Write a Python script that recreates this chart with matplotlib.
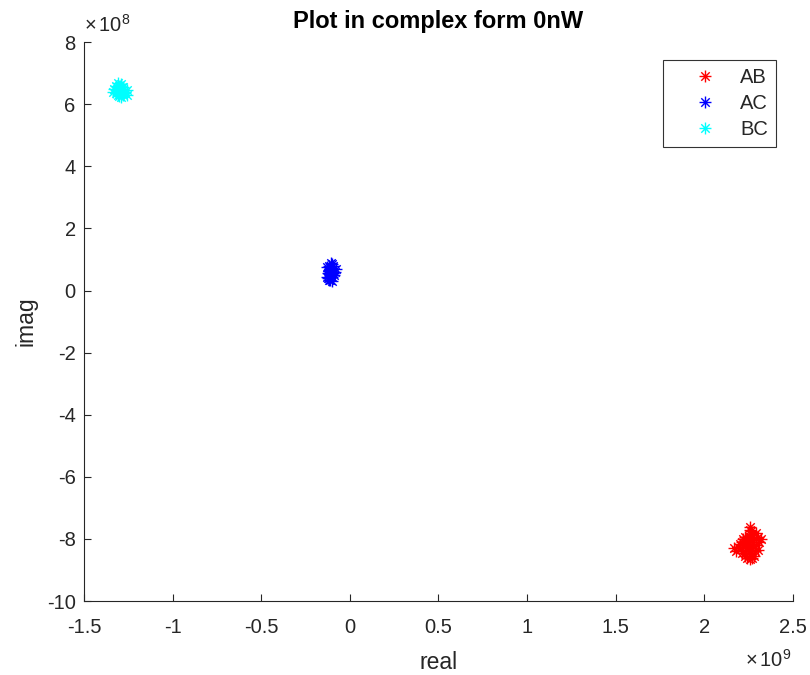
import numpy as np
import matplotlib
matplotlib.use("Agg")
import matplotlib.pyplot as plt
from matplotlib.path import Path
from matplotlib.lines import Line2D

plt.rcParams['font.family'] = ['Liberation Sans', 'DejaVu Sans']
plt.rcParams['mathtext.fontset'] = 'custom'
plt.rcParams['mathtext.rm'] = 'Liberation Sans'
plt.rcParams['mathtext.it'] = 'Liberation Sans'

# Complex samples per pair (real part in units of 1e9, imaginary part in units of 1e8)
ab_real = [2.25, 2.27, 2.26, 2.28, 2.24, 2.21, 2.19, 2.23, 2.26, 2.29, 2.30, 2.22, 2.25, 2.27,
           2.20, 2.24, 2.28, 2.23, 2.31, 2.26, 2.21, 2.17, 2.29, 2.25, 2.27, 2.22, 2.30, 2.24, 2.265,
           2.245, 2.255, 2.235, 2.275, 2.215, 2.285, 2.255, 2.23, 2.32, 2.18, 2.26]
ab_imag = [-8.10, -7.85, -7.62, -8.00, -8.20, -8.30, -8.25, -8.45, -8.50, -8.20, -7.95, -8.00, -7.90, -8.35,
           -8.15, -8.60, -8.55, -7.95, -8.10, -8.25, -8.45, -8.30, -7.80, -8.40, -8.60, -8.20, -8.35, -8.05, -7.75,
           -8.30, -8.00, -8.10, -8.15, -8.10, -8.40, -8.65, -8.55, -8.00, -8.40, -7.70]

ac_real = [-0.110, -0.100, -0.120, -0.090, -0.130, -0.110, -0.100, -0.120, -0.080, -0.130,
           -0.105, -0.115, -0.095, -0.125, -0.085, -0.110, -0.100, -0.120, -0.105, -0.115,
           -0.095, -0.125]
ac_imag = [0.60, 0.85, 0.80, 0.50, 0.45, 0.35, 0.30, 0.65, 0.70, 0.75,
           0.90, 0.40, 0.55, 0.55, 0.60, 0.72, 0.42, 0.34, 0.50, 0.62, 0.78, 0.40]

bc_real = [-1.300, -1.320, -1.280, -1.310, -1.270, -1.290, -1.330, -1.300, -1.260, -1.280,
           -1.310, -1.290, -1.335, -1.275, -1.300, -1.320, -1.285, -1.255, -1.295, -1.315,
           -1.305, -1.285]
bc_imag = [6.45, 6.60, 6.30, 6.30, 6.40, 6.65, 6.50, 6.25, 6.45, 6.55,
           6.68, 6.22, 6.40, 6.35, 6.55, 6.35, 6.45, 6.30, 6.38, 6.48, 6.58, 6.55]

series_names = ['AB', 'AC', 'BC']
series_colors = ['#ff0000', '#0000ff', '#00ffff']

x_ticks = [-1.5, -1, -0.5, 0, 0.5, 1, 1.5, 2, 2.5]
y_ticks = [-10, -8, -6, -4, -2, 0, 2, 4, 6, 8]

# eight-armed asterisk marker
s = np.sqrt(0.5)
verts = [(-1, 0), (1, 0), (0, -1), (0, 1), (-s, -s), (s, s), (-s, s), (s, -s)]
codes = [Path.MOVETO, Path.LINETO] * 4
asterisk = Path(verts, codes)

fig = plt.figure(figsize=(8.1, 6.75), dpi=100)
ax = fig.add_axes([0.1037, 0.1096, 0.8753, 0.828])

ink = '#262626'
tick_fs = 14.5
label_fs = 16.5

data = [(ab_real, ab_imag), (ac_real, ac_imag), (bc_real, bc_imag)]
for (re, im), name, col in zip(data, series_names, series_colors):
    ax.plot(np.array(re) * 1e9, np.array(im) * 1e8, linestyle='none', marker=asterisk,
            markersize=8.6, markeredgewidth=1.0, markeredgecolor=col, markerfacecolor='none',
            label=name)

ax.set_xlim(-1.5e9, 2.5e9)
ax.set_ylim(-10e8, 8e8)
ax.set_xticks([v * 1e9 for v in x_ticks])
ax.set_xticklabels([f'{v:g}' for v in x_ticks])
ax.set_yticks([v * 1e8 for v in y_ticks])
ax.set_yticklabels([f'{v:g}' for v in y_ticks])

for side in ('top', 'right'):
    ax.spines[side].set_visible(False)
for side in ('left', 'bottom'):
    ax.spines[side].set_color(ink)
    ax.spines[side].set_linewidth(0.8)
ax.tick_params(direction='in', length=5, width=0.8, colors=ink, labelsize=tick_fs)
ax.tick_params(axis='x', pad=12)
ax.tick_params(axis='y', pad=6)

ax.set_title('Plot in complex form 0nW', fontsize=17, fontweight='bold', color='black', pad=10)
ax.set_xlabel('real', fontsize=label_fs, color=ink, labelpad=10)
ax.set_ylabel('imag', fontsize=label_fs, color=ink, labelpad=7)

ax.text(0.0, 1.012, r'$\times\,10^{8}$', transform=ax.transAxes, ha='left', va='bottom',
        fontsize=tick_fs, color=ink)
ax.text(0.997, -0.085, r'$\times\,10^{9}$', transform=ax.transAxes, ha='right', va='top',
        fontsize=tick_fs, color=ink)

handles = [Line2D([], [], linestyle='none', marker=asterisk, markersize=8.6, markeredgewidth=1.0,
                  markeredgecolor=c, markerfacecolor='none') for c in series_colors]
leg = ax.legend(handles, series_names, loc='upper right', bbox_to_anchor=(0.976, 0.968),
                borderaxespad=0, fontsize=tick_fs, frameon=True, fancybox=False,
                edgecolor='black', handlelength=3.4, handletextpad=0.05, labelspacing=0.35,
                borderpad=0.4)
leg.get_frame().set_linewidth(0.8)
for t in leg.get_texts():
    t.set_color(ink)

fig.savefig('out.png', dpi=100, facecolor='white')
